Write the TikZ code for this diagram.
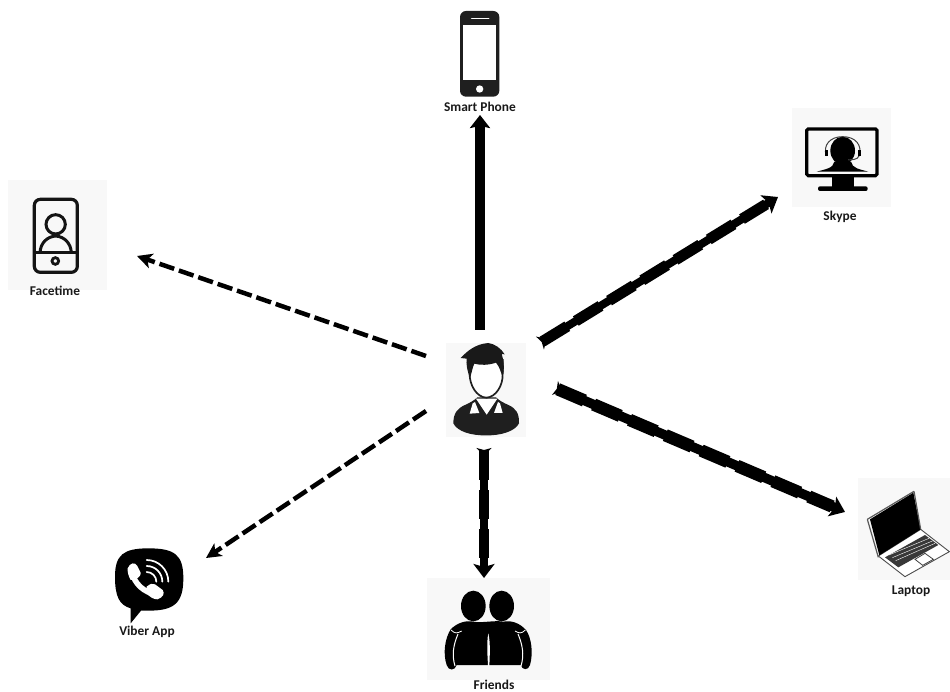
\documentclass[tikz,border=0pt]{standalone}
\usepackage{fontspec}
\setmainfont{Carlito}
\usetikzlibrary{arrows.meta}
\definecolor{bgicon}{HTML}{F8F8F8}
\tikzset{
  iconbg/.style={fill=bgicon,draw=none,inner sep=0pt,minimum width=#1},
  iconbox/.style={draw=none,inner sep=0pt},
  lab/.style={inner sep=0pt,font=\fontsize{13.4}{14}\selectfont\bfseries,text=black!90},
  heavy/.style 2 args={draw=black,line width=#1,
    {Stealth[reversed,length=8pt,width=15pt,inset=2pt]}-{Stealth[length=14pt,width=21pt,inset=3pt]},
    postaction={draw,-,line width=#2,dash pattern=on 29pt off 10pt,shorten <=3pt,shorten >=14pt}},
  solidarrow/.style={draw=black,line width=9.5pt,-{Stealth[length=13pt,width=20pt,inset=2pt]}},
  dasharrow/.style={draw=black,line width=4.5pt,dash pattern=on 15.5pt off 5pt,
    -{Stealth[length=15pt,width=15pt,inset=4pt]}},
  zoomed/.style={x=0.33333pt,y=-0.33333pt},
}
\begin{document}
\begin{tikzpicture}[x=1pt,y=-1pt]
\useasboundingbox (0,0) rectangle (950,692);
% icon anchors and backgrounds
\node[iconbg=80pt,minimum height=94pt] (person) at (486,390) {};
\node[iconbox,minimum width=40pt,minimum height=86pt] (phone) at (480,54) {};
\node[iconbg=99pt,minimum height=99pt] (skype) at (841.5,157.5) {};
\node[iconbg=99pt,minimum height=110pt] (facetime) at (57.5,235) {};
\node[iconbg=92pt,minimum height=102pt] (laptop) at (904,529) {};
\node[iconbg=123pt,minimum height=102pt] (friends) at (488.5,629) {};
\node[iconbox,minimum width=68pt,minimum height=77pt] (viber) at (149,586) {};
% labels
\node[lab] (lphone) at (480,107) {Smart Phone};
\node[lab] (lskype) at (840,217) {Skype};
\node[lab] (lfacetime) at (55,291) {Facetime};
\node[lab] (llaptop) at (911,591) {Laptop};
\node[lab] (lfriends) at (494,685) {Friends};
\node[lab] (lviber) at (147,632) {Viber App};
% person
\begin{scope}[shift={(420,320)},zoomed]
\fill[black!88] (100,310) .. controls (100,280) and (112,265) .. (135,255) .. controls (150,248) and (162,242) .. (172,232) -- (228,232) .. controls (238,242) and (250,248) .. (265,255) .. controls (288,265) and (298,280) .. (297,310) .. controls (285,335) and (240,347) .. (198,346) .. controls (155,347) and (112,335) .. (100,310) -- cycle;
\fill[white] (168,236) -- (200,284) -- (232,236) -- cycle;
\fill[white] (158,250) -- (149,281) -- (178,279) -- (165,246) -- cycle;
\fill[white] (240,250) -- (248,279) -- (222,279) -- (234,246) -- cycle;
\draw[black!88,line width=1.7pt,fill=white] (149,160) .. controls (148,195) and (170,232) .. (199,233) .. controls (228,232) and (250,195) .. (248,160) -- (248,120) -- (149,120) -- cycle;
\fill[black!90] (122,114) .. controls (140,95) and (165,72) .. (205,69) .. controls (225,72) and (243,85) .. (254,103) -- (245,102) .. controls (252,125) and (254,150) .. (247,172) .. controls (243,155) and (238,140) .. (228,128) .. controls (205,136) and (180,136) .. (163,131) .. controls (158,141) and (155,158) .. (150,175) .. controls (141,150) and (138,130) .. (140,116) -- cycle;
\end{scope}
% smart phone
\begin{scope}[shift={(430,0)},zoomed]
\fill[black!88,rounded corners=6pt] (90,33) rectangle (208,290);
\fill[white] (100,75) rectangle (198,240);
\draw[white,line width=1.6pt,line cap=round] (125,55) -- (176,55);
\fill[white] (149,267) circle (11);
\end{scope}
% skype
\begin{scope}[shift={(780,100)},zoomed]
\draw[black,line width=3.2pt,rounded corners=1.5pt] (80,87) rectangle (291,227);
\fill[black] (155,227) rectangle (222,262);
\fill[black,rounded corners=2pt] (114,259) rectangle (263,273);
\fill[black] (110,215) .. controls (135,208) and (160,205) .. (163,185) -- (213,185) .. controls (216,205) and (240,208) .. (265,215) -- cycle;
\fill[black] (188,152) ellipse (37 and 42);
\draw[black!75,line width=1pt] (139,168) .. controls (128,135) and (150,110) .. (188,110) .. controls (226,110) and (248,135) .. (237,168) .. controls (232,180) and (215,180) .. (196,179);
\fill[black] (134,150) rectangle (143,168);
\fill[black] (233,150) rectangle (242,168);
\fill[black] (190,175) rectangle (203,183);
\end{scope}
% facetime
\begin{scope}[shift={(0,175)},zoomed]
\draw[black!92,line width=3.2pt,rounded corners=6pt] (103,73) rectangle (232,292);
\draw[black!92,line width=3.2pt] (103,232) -- (232,232);
\draw[black!92,line width=3pt] (167,148) circle (29);
\draw[black!92,line width=3pt] (120,232) .. controls (122,205) and (140,185) .. (167,183) .. controls (194,185) and (212,205) .. (214,232);
\draw[black!92,line width=2.8pt] (166,258) circle (10);
\end{scope}
% laptop
\begin{scope}[shift={(850,470)},zoomed]
\draw[black!70,line width=0.9pt,fill=white] (85,258) -- (212,178) -- (298,245) -- (165,320) -- cycle;
\fill[black] (60,148) -- (190,68) -- (212,178) -- (88,256) -- cycle;
\draw[black!65,line width=1.2pt] (52,148) -- (192,64) (52,148) -- (85,262) (192,64) -- (212,178);
\fill[black!78] (105,262) -- (225,195) -- (265,225) -- (145,292) -- cycle;
\draw[white,line width=0.4pt] (117,255) -- (237,205) (127,263) -- (247,213) (137,272) -- (255,220);
\draw[black!75,line width=0.8pt,fill=white] (195,268) -- (225,250) -- (250,268) -- (218,286) -- cycle;
\end{scope}
% friends
\begin{scope}[shift={(420,570)},zoomed]
\fill[black] (160,108) ellipse (37 and 46);
\fill[black] (245,108) ellipse (37 and 46);
\fill[black] (92,178) .. controls (110,160) and (135,150) .. (160,155) .. controls (185,160) and (225,150) .. (250,155) .. controls (275,150) and (300,160) .. (318,180) .. controls (335,205) and (340,250) .. (330,285) .. controls (325,303) and (305,300) .. (303,285) -- (110,285) .. controls (105,303) and (85,303) .. (80,285) .. controls (68,250) and (75,205) .. (92,178) -- cycle;
\draw[white,line width=1pt] (114,192) .. controls (100,225) and (95,255) .. (105,288);
\draw[white,line width=1pt] (294,192) .. controls (308,225) and (313,255) .. (303,288);
\draw[white,line width=0.8pt] (93,180) .. controls (105,192) and (112,190) .. (125,183);
\draw[white,line width=0.8pt] (316,180) .. controls (304,192) and (297,190) .. (285,183);
\fill[white] (205,190) .. controls (199,220) and (203,260) .. (204,288) -- (208,288) .. controls (209,260) and (212,220) .. (205,190) -- cycle;
\end{scope}
% viber
\begin{scope}[shift={(100,540)},zoomed]
\fill[black] (45,110) .. controls (45,45) and (70,25) .. (145,25) .. controls (225,25) and (250,45) .. (250,115) .. controls (250,190) and (222,212) .. (145,212) -- (123,212) -- (92,250) -- (92,205) .. controls (58,195) and (45,170) .. (45,110) -- cycle;
\draw[white,line width=5.5pt,line cap=round] (97,95) .. controls (100,130) and (135,160) .. (170,163);
\fill[white] (83,85) .. controls (90,68) and (105,65) .. (112,78) -- (122,98) .. controls (124,108) and (112,115) .. (105,118) -- (92,120) .. controls (85,108) and (82,95) .. (83,85) -- cycle;
\fill[white] (140,140) .. controls (150,132) and (158,128) .. (165,133) -- (188,150) .. controls (195,160) and (190,172) .. (172,178) .. controls (160,178) and (148,170) .. (140,160) -- cycle;
\draw[white,line width=1.7pt,line cap=round] (140,60) .. controls (176,60) and (205,89) .. (205,125);
\draw[white,line width=1.7pt,line cap=round] (140,78) .. controls (166,78) and (187,99) .. (187,125);
\draw[white,line width=1.7pt,line cap=round] (140,96) .. controls (156,96) and (169,109) .. (169,125);
\end{scope}
% connectors
\draw[solidarrow] ([shift={(-6,-60)}]person.center) -- ([shift={(0,61)}]phone.center);
\draw[heavy={8pt}{11pt}] ([shift={(54,-47)}]person.center) -- ([shift={(-63.5,39.5)}]skype.center);
\draw[heavy={9.5pt}{12.5pt}] ([shift={(69,-2)}]person.center) -- ([shift={(-59,-17)}]laptop.center);
\draw[heavy={8pt}{10.5pt}] ([shift={(-2,58)}]person.center) -- ([shift={(-4.5,-51)}]friends.center);
\draw[dasharrow] ([shift={(-60,-34)}]person.center) -- ([shift={(79.5,21)}]facetime.center);
\draw[dasharrow] ([shift={(-60,21)}]person.center) -- ([shift={(57,-28)}]viber.center);
\end{tikzpicture}
\end{document}
